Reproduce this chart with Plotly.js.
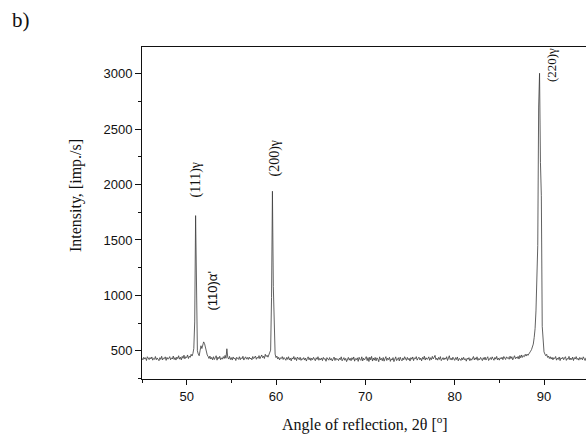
<!DOCTYPE html>
<html>
<head>
<meta charset="utf-8">
<script src="https://cdn.plot.ly/plotly-3.0.1.min.js"></script>
<style>html,body{margin:0;padding:0;background:#fff;overflow:hidden}</style>
</head>
<body>
<div id="chart" style="width:586px;height:435px"></div>
<script>
// Sampling grid of the diffractogram (degrees 2θ)
const startAngle = 45.0;
const stepAngle = 0.1;

// Intensity [imp./s], one row per degree, 45.0 ... 94.7
const intensity = [
  432,418,441,425,437,412,446,428,420,439,
  426,444,415,431,423,448,419,435,427,410,
  438,422,450,417,433,429,445,413,440,424,
  431,447,419,436,426,452,421,438,416,443,
  429,455,424,441,418,449,432,460,427,446,
  438,462,430,451,441,468,452,475,520,760,
  1720,820,500,470,455,500,545,520,560,580,
  565,520,490,462,448,430,452,425,440,418,
  446,421,437,455,415,442,428,450,419,436,
  424,447,430,458,432,518,440,425,449,421,
  438,416,444,427,435,412,441,430,422,446,
  419,437,428,450,416,433,445,424,439,421,
  443,426,435,418,448,429,437,452,423,441,
  432,456,428,444,462,437,451,430,468,448,
  459,442,471,478,505,980,1940,1080,560,470,
  438,452,425,441,418,436,430,447,421,439,
  427,414,440,422,446,418,433,409,436,425,
  448,420,437,411,443,428,419,441,413,430,
  422,438,416,434,407,429,445,418,436,412,
  433,419,441,425,410,437,422,446,414,431,
  418,435,411,440,424,429,405,438,421,415,
  439,416,430,408,427,443,412,434,419,426,
  411,433,420,445,409,428,438,414,431,402,
  426,440,415,432,410,437,421,444,406,429,
  419,436,404,441,422,413,445,408,433,417,
  430,447,411,438,403,442,418,449,407,434,
  415,440,409,436,424,401,445,418,431,410,
  439,406,428,447,412,433,420,441,404,427,
  416,438,402,430,445,411,426,437,408,442,
  421,409,435,418,446,425,413,440,419,432,
  407,438,423,444,411,436,428,447,415,430,
  442,418,433,409,440,424,451,416,437,422,
  428,445,413,437,420,449,426,441,458,419,
  433,415,440,422,447,411,429,438,418,435,
  424,446,412,437,455,420,433,416,442,427,
  413,438,421,444,409,430,425,412,436,418,
  441,419,428,406,433,422,438,410,429,415,
  432,448,417,436,421,445,413,430,419,440,
  426,411,437,420,443,416,431,446,412,427,
  438,420,445,428,414,440,424,449,418,433,
  415,437,426,442,419,448,430,421,445,432,
  440,423,451,429,446,418,437,455,428,443,
  431,449,425,458,436,462,440,455,447,468,
  452,470,458,476,485,496,510,528,560,620,
  700,860,1150,1450,2700,3005,2200,1900,720,540,
  490,470,455,468,440,452,430,446,425,441,
  418,437,429,448,415,433,422,444,411,436,
  427,441,419,435,446,413,430,424,449,417,
  434,420,443,412,438,426,447,421,432,415,
  440,423,436,418,445,429,412,437
];

// Peak labels
const peakLabels = ["(111)γ", "(110)α'", "(200)γ", "(220)γ"];
const peakLabelX = [51.02, 52.9, 59.87, 90.85];
const peakLabelY = [2044, 1040, 2243, 3075];
const peakLabelFont = ["Liberation Serif", "Liberation Sans", "Liberation Serif", "Liberation Serif"];
const peakLabelSize = [14, 13, 14, 13];

const angles = intensity.map((_, i) => +(startAngle + i * stepAngle).toFixed(2));

const trace = {
  x: angles,
  y: intensity,
  type: 'scatter',
  mode: 'lines',
  line: {color: '#3a3a3a', width: 0.8},
  hoverinfo: 'x+y'
};

const annotations = peakLabels.map((t, i) => ({
  text: t, x: peakLabelX[i], y: peakLabelY[i], xref: 'x', yref: 'y',
  showarrow: false, textangle: -90, xanchor: 'center', yanchor: 'middle',
  font: {family: peakLabelFont[i], size: peakLabelSize[i], color: '#111'}
}));

annotations.push({
  text: 'Intensity, [imp./s]', xref: 'paper', yref: 'paper',
  x: -0.1486, y: 0.551, showarrow: false, textangle: -90,
  xanchor: 'center', yanchor: 'middle',
  font: {family: 'Liberation Serif', size: 16, color: '#111'}
});
annotations.push({
  text: 'Angle of reflection, 2θ [<sup>o</sup>]', xref: 'paper', yref: 'paper',
  x: 0.502, y: -0.133, showarrow: false,
  xanchor: 'center', yanchor: 'middle',
  font: {family: 'Liberation Serif', size: 16, color: '#111'}
});
annotations.push({
  text: 'b)', xref: 'paper', yref: 'paper',
  x: -0.2725, y: 1.0813, showarrow: false,
  xanchor: 'center', yanchor: 'middle',
  font: {family: 'Liberation Serif', size: 21, color: '#111'}
});

const layout = {
  width: 586, height: 435,
  margin: {l: 142, r: 0, t: 47, b: 56, pad: 0},
  paper_bgcolor: '#fff', plot_bgcolor: '#fff',
  showlegend: false,
  xaxis: {
    range: [45, 94.7], tick0: 50, dtick: 10,
    ticks: 'outside', ticklen: 5, tickwidth: 1, tickcolor: '#111',
    minor: {dtick: 5, tick0: 45, ticks: 'outside', ticklen: 3, tickwidth: 1, tickcolor: '#111'},
    showline: true, linecolor: '#111', linewidth: 1, mirror: true,
    showgrid: false, zeroline: false,
    tickfont: {family: 'Liberation Sans', size: 13, color: '#111'}
  },
  yaxis: {
    range: [245, 3242], tick0: 0, dtick: 500,
    ticks: 'outside', ticklen: 6, tickwidth: 1, tickcolor: '#111',
    minor: {dtick: 250, tick0: 0, ticks: 'outside', ticklen: 3, tickwidth: 1, tickcolor: '#111'},
    showline: true, linecolor: '#111', linewidth: 1, mirror: false,
    showgrid: false, zeroline: false,
    tickfont: {family: 'Liberation Sans', size: 13, color: '#111'}
  },
  annotations: annotations
};

Plotly.newPlot('chart', [trace], layout, {displayModeBar: false, staticPlot: true});
</script>
</body>
</html>
